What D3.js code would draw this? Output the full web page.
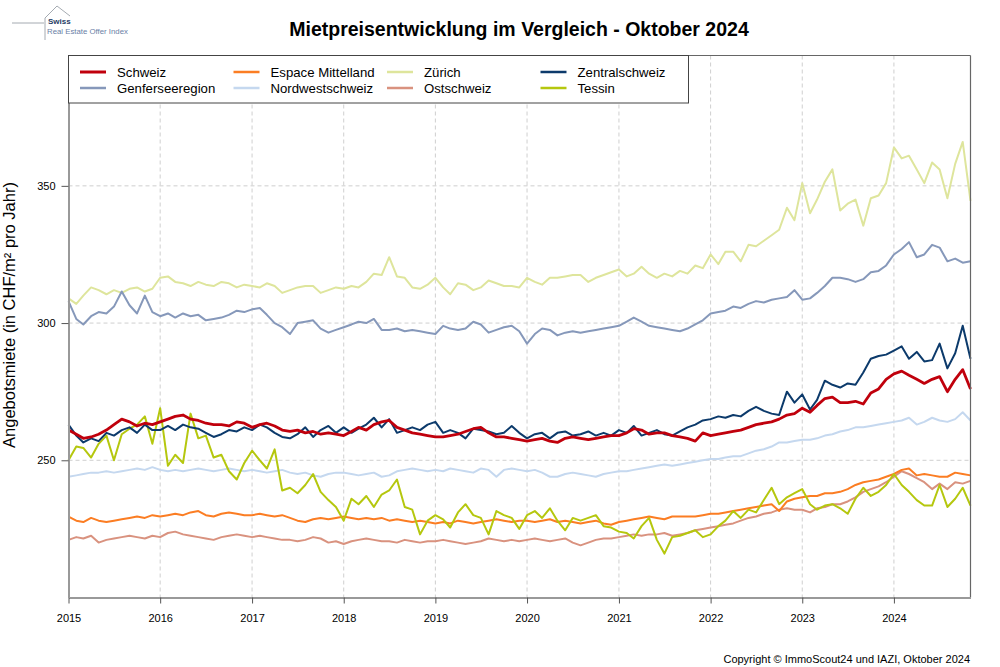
<!DOCTYPE html>
<html>
<head>
<meta charset="utf-8">
<script src="https://cdn.jsdelivr.net/npm/d3@7"></script>
<style>
  html, body { margin: 0; padding: 0; background: #fff; }
  svg { display: block; font-family: "Liberation Sans", Arial, sans-serif; }
</style>
</head>
<body>
<svg id="chart" width="1000" height="667"></svg>
<script>
// ---------- DATA (monthly readings, Jan 2015 .. Nov 2024) ----------
const startYear = 2015;
const nPoints = 119;
const yearTicks = [2015, 2016, 2017, 2018, 2019, 2020, 2021, 2022, 2023, 2024];
const valueTicks = [250, 300, 350];

const schweiz = [
  261, 259.5, 258, 258.5, 259.5, 261, 263, 265, 264, 262.5, 263.5, 263,
  264, 265, 266, 266.5, 265, 264.5, 263.5, 263, 263, 262.5, 264, 263.5,
  262, 263, 263.5, 262.5, 261, 260.5, 261, 260, 260.5, 259.5, 260, 259.5,
  259, 260.5, 262, 261, 263, 264, 264.5, 262, 261, 260, 259.5, 259,
  258.5, 258.5, 259, 259.5, 260.5, 261.5, 262, 260, 258.5, 258.5, 258, 257.5,
  257, 257.5, 258, 257, 256.5, 258, 258.5, 258, 257.5, 258, 258.5, 259,
  259, 260, 261.5, 261, 259.5, 260, 260, 259, 258.5, 258, 257, 260,
  259, 259.5, 260, 260.5, 261, 262, 263, 263.5, 264, 265, 266.5, 267,
  269, 267.5, 270, 272.5, 273, 271, 271, 271.5, 270.5, 274.5, 276, 279.5,
  281.5, 282.5, 281, 279.5, 278, 279.5, 280.5, 275, 279.5, 283, 276
];
const genferseeregion = [
  308, 301.5, 299.5, 302.5, 304, 303.5, 306, 311.5, 306.5, 303.5, 310, 304,
  302.5, 303.5, 302, 303.5, 302.5, 303, 301, 301.5, 302, 303, 304.5, 304,
  305, 305.5, 303, 300, 298.5, 296, 300, 300.5, 301, 298, 296.5, 297.5,
  298.5, 299.5, 300.5, 300, 301.5, 297.5, 297.5, 298, 297, 297.5, 297, 296.5,
  296, 299, 298, 297.5, 298, 300.5, 299.5, 296.5, 297.5, 298.5, 299, 297,
  292.5, 296, 298, 297.5, 295.5, 296.5, 297, 296.5, 297, 297.5, 298, 298.5,
  299, 300.5, 302, 300.5, 299, 298.5, 298, 297.5, 297, 298, 299.5, 301,
  303.5, 304, 304.5, 306, 305.5, 307, 308, 307.5, 308.5, 309, 309.5, 312,
  308.5, 309, 311, 313.5, 316.5, 316.5, 316, 315, 316, 318.5, 319, 321,
  325, 327, 329.5, 324, 325, 328.5, 327.5, 322.5, 323.5, 322, 322.5
];
const espaceMittelland = [
  229.5, 228, 227.5, 229, 228, 227.5, 228, 228.5, 229, 229.5, 229, 230,
  229.5, 230, 230.5, 230, 231, 231.5, 230, 229.5, 230.5, 231, 230.5, 230,
  230, 230.5, 230, 229.5, 230, 229, 228, 227.5, 228.5, 229, 228.5, 229,
  229.5, 229, 228.5, 229, 228.5, 229, 228, 228.5, 228, 227.5, 228, 227.5,
  227, 227.5, 227, 228, 227.5, 227, 227.5, 228, 228.5, 228, 227.5, 228,
  228, 227.5, 228, 228.5, 227.5, 228, 227.5, 227, 227.5, 228, 227, 226.5,
  227.5, 228, 228.5, 229, 229.5, 229, 228.5, 229.5, 229.5, 229.5, 229.5, 230,
  230.5, 230.5, 231, 231.5, 232, 232.5, 233, 233.5, 234, 231.5, 235, 236,
  236.5, 237, 237, 238, 238, 238.5, 239.5, 241, 242, 242.5, 243, 244,
  245, 246.5, 247, 244.5, 245, 244.5, 244, 244, 245.5, 245, 244.5
];
const nordwestschweiz = [
  244, 244.5, 245, 245.5, 245.5, 246, 245.5, 246, 246.5, 247, 246.5, 247.5,
  246.5, 246, 246.5, 246, 246.5, 247, 246.5, 246, 246.5, 247, 246.5, 246,
  246.5, 246, 245.5, 246, 246.5, 245.5, 245, 245.5, 244.5, 244, 245, 245.5,
  245.5, 245, 244.5, 245, 245.5, 244, 244.5, 246, 246.5, 247, 246.5, 246,
  246.5, 246, 247, 246.5, 246, 245.5, 247, 246.5, 244, 246.5, 247, 246.5,
  246, 246.5, 245.5, 244, 244, 245, 245.5, 245, 244.5, 244, 245, 245.5,
  246, 246, 246.5, 247, 247.5, 248, 248.5, 248, 248.5, 249, 249.5, 250,
  250.5, 250.5, 251, 251.5, 251.5, 252.5, 253.5, 254, 255, 256.5, 256.5, 257,
  257.5, 257.5, 258, 259, 259.5, 260.5, 261, 262, 262, 262.5, 263, 263.5,
  264, 264.5, 265.5, 263, 264, 265.5, 264.5, 264, 265, 267.5, 264.5
];
const zuerich = [
  309, 307, 310, 313, 312, 310.5, 312, 311, 312.5, 313, 311.5, 312.5,
  316.5, 317, 315, 314.5, 313.5, 315, 314, 313.5, 315, 314.5, 313, 314,
  313.5, 313, 314.5, 313.5, 311, 312, 313, 313.5, 313.5, 311, 312, 313,
  312.5, 313.5, 313, 315, 318, 317.5, 324, 317, 316.5, 313, 312.5, 314,
  316.5, 313, 310.5, 314.5, 314, 312, 313, 315.5, 314.5, 313.5, 313.5, 313,
  316.5, 315, 314, 316.5, 316.5, 317, 317.5, 317.5, 315, 316.5, 317.5, 318.5,
  319.5, 317, 318, 320.5, 318, 316.5, 318, 317, 319, 318, 321, 320,
  325, 321.5, 326, 326, 322.5, 328.5, 328, 330, 332, 334, 342, 337.5,
  351, 340, 345, 351.5, 356, 341, 343.5, 345, 335.5, 345.5, 346.5, 351,
  364, 360, 361, 356, 351, 358.5, 356, 345.5, 358, 366, 344.5
];
const ostschweiz = [
  221, 222, 221.5, 222.5, 220, 221, 221.5, 222, 222.5, 222, 221.5, 222.5,
  222, 223.5, 224, 223, 222.5, 222, 221.5, 221, 222, 222.5, 223, 222.5,
  222, 222.5, 222, 221.5, 221, 221, 220.5, 221, 222, 221.5, 220, 220.5,
  219.5, 220.5, 221, 221.5, 221, 220.5, 220.5, 220, 221, 220.5, 220, 220.5,
  220.5, 221, 220.5, 220, 219.5, 220, 220.5, 221.5, 221, 220.5, 221, 220.5,
  221, 221.5, 221, 220.5, 221, 221.5, 220, 219, 220, 221, 221.5, 221.5,
  222, 222.5, 223, 222.5, 223, 223, 223.5, 222.5, 223, 223.5, 224.5, 225,
  225.5, 226, 226.5, 227, 228, 229, 229.5, 230.5, 231, 232, 232.5, 232,
  232, 231, 232.5, 233, 234, 234, 235, 236.5, 238.5, 239.5, 240.5, 242,
  244, 246, 245, 243.5, 242, 239.5, 241.5, 239.5, 242, 241.5, 242.5
];
const zentralschweiz = [
  263, 259, 256.5, 258, 257, 260, 259, 261, 262, 260, 263, 261,
  261, 262.5, 261, 263, 262, 261.5, 260, 258.5, 259.5, 261, 260.5, 262,
  261, 263, 262, 260, 258.5, 258, 259.5, 262, 258.5, 261, 262.5, 260,
  262, 260, 261.5, 263, 265.5, 262, 265, 260, 261, 262, 261, 263,
  264, 260, 261, 260, 258, 261.5, 261, 260.5, 259.5, 260, 262.5, 260,
  258, 259.5, 260, 258, 260, 260.5, 259, 259.5, 260.5, 259, 260, 259,
  261, 260, 262.5, 259, 260, 261, 259.5, 259, 260.5, 262, 263, 264.5,
  265, 266, 265.5, 266.5, 266, 268, 269.5, 268, 267, 266.5, 275, 271,
  274, 268.5, 272, 279, 277.5, 276.5, 278, 277.5, 282, 287, 288, 288.5,
  290, 291.5, 287, 289.5, 286, 286.5, 292.5, 283.5, 289, 299, 287
];
const tessin = [
  250, 255, 254.5, 251, 256, 259, 250, 259.5, 261.5, 263, 266, 256,
  269, 248, 252, 249, 267, 258, 259, 251, 252, 246, 243, 249,
  253.5, 250, 247, 254, 239, 240, 238, 241, 245, 238.5, 235.5, 233,
  228, 236, 234, 237, 233, 237.5, 239, 243, 233, 232, 223, 228,
  230, 228.5, 225.5, 231, 234, 230, 229, 223, 231.5, 230, 229, 225,
  230, 231.5, 229, 232.5, 228, 224.5, 229, 228, 229, 230, 226, 225.5,
  224, 223.5, 221.5, 226, 229, 221, 216, 222, 222.5, 223.5, 224.5, 222,
  223, 226, 228, 231.5, 229, 232, 231, 235.5, 240, 234, 236.5, 238,
  239.5, 234, 232, 233.5, 234, 232.5, 230.5, 236, 240, 237, 238.5, 241,
  245, 241, 238.5, 235.5, 233.5, 233.5, 241, 233, 236, 240, 233.5
];

const seriesNames = ["Schweiz", "Genferseeregion", "Espace Mittelland", "Nordwestschweiz",
                     "Zürich", "Ostschweiz", "Zentralschweiz", "Tessin"];

// ---------- build ----------
const dates = d3.range(nPoints).map(i => new Date(Date.UTC(startYear, i, 1)));
const seriesValues = {
  "Schweiz": schweiz, "Genferseeregion": genferseeregion, "Espace Mittelland": espaceMittelland,
  "Nordwestschweiz": nordwestschweiz, "Zürich": zuerich, "Ostschweiz": ostschweiz,
  "Zentralschweiz": zentralschweiz, "Tessin": tessin
};
const colors = {
  "Schweiz": "#c0000c", "Genferseeregion": "#8698ba", "Espace Mittelland": "#fb7d23",
  "Nordwestschweiz": "#c5d8ef", "Zürich": "#dee59c", "Ostschweiz": "#d9927f",
  "Zentralschweiz": "#0c3a6b", "Tessin": "#b5c70e"
};
const widths = { "Schweiz": 2.8 };
const drawOrder = ["Zürich", "Genferseeregion", "Nordwestschweiz", "Ostschweiz",
                   "Espace Mittelland", "Tessin", "Zentralschweiz", "Schweiz"];

const svg = d3.select("#chart");
const L = 68.5, R = 970.5, T = 55.5, B = 597.5;

const x = d3.scaleUtc()
  .domain([new Date(Date.UTC(2015, 0, 1)), new Date(Date.UTC(2024, 10, 1))])
  .range([L, R]);
const y = d3.scaleLinear().domain([200, 397.5]).range([B, T]);

// grid
const grid = svg.append("g");
grid.selectAll("line.vg").data(yearTicks.slice(1)).join("line")
  .attr("x1", d => x(new Date(Date.UTC(d, 0, 1)))).attr("x2", d => x(new Date(Date.UTC(d, 0, 1))))
  .attr("y1", T).attr("y2", B)
  .attr("stroke", "#cfcfcf").attr("stroke-width", 1).attr("stroke-dasharray", "4,3");
grid.selectAll("line.hg").data(valueTicks).join("line")
  .attr("x1", L).attr("x2", R).attr("y1", d => y(d)).attr("y2", d => y(d))
  .attr("stroke", "#cfcfcf").attr("stroke-width", 1).attr("stroke-dasharray", "4,3");

// lines
const line = d3.line().x((d, i) => x(dates[i])).y(d => y(d));
const lines = svg.append("g");
drawOrder.forEach(name => {
  lines.append("path")
    .datum(seriesValues[name])
    .attr("d", line)
    .attr("fill", "none")
    .attr("stroke", colors[name])
    .attr("stroke-width", widths[name] || 2)
    .attr("stroke-linejoin", "round");
});

// frame
svg.append("line").attr("x1", L).attr("x2", R).attr("y1", T).attr("y2", T)
  .attr("stroke", "#666").attr("stroke-width", 1.2);
svg.append("line").attr("x1", R).attr("x2", R).attr("y1", T).attr("y2", B)
  .attr("stroke", "#666").attr("stroke-width", 1.2);

// axes
const xAxis = d3.axisBottom(x)
  .tickValues(yearTicks.map(d => new Date(Date.UTC(d, 0, 1))))
  .tickFormat(d3.utcFormat("%Y")).tickSize(6).tickSizeOuter(0);
const gx = svg.append("g").attr("transform", `translate(0,${B})`).call(xAxis);
gx.select(".domain").attr("stroke", "#999").attr("stroke-width", 2);
gx.selectAll(".tick line").attr("stroke", "#555");
gx.selectAll(".tick text").attr("font-size", 11).attr("font-family", "Liberation Sans, Arial, sans-serif")
  .attr("fill", "#000").attr("dy", "1.45em");

const yAxis = d3.axisLeft(y).tickValues(valueTicks).tickSize(7).tickSizeOuter(0);
const gy = svg.append("g").attr("transform", `translate(${L},0)`).call(yAxis);
gy.select(".domain").attr("stroke", "#999").attr("stroke-width", 2);
gy.selectAll(".tick line").attr("stroke", "#555");
gy.selectAll(".tick text").attr("font-size", 11).attr("font-family", "Liberation Sans, Arial, sans-serif")
  .attr("fill", "#000").attr("x", -13);

// y label
svg.append("text")
  .attr("transform", "translate(15,315) rotate(-90)")
  .attr("text-anchor", "middle").attr("font-size", 16.5).attr("fill", "#000")
  .text("Angebotsmiete (in CHF/m² pro Jahr)");

// title
svg.append("text").attr("x", 519).attr("y", 36).attr("text-anchor", "middle")
  .attr("font-size", 19.5).attr("font-weight", "bold").attr("fill", "#000")
  .text("Mietpreisentwicklung im Vergleich - Oktober 2024");

// legend
const lg = svg.append("g");
lg.append("rect").attr("x", L).attr("y", T).attr("width", 620).attr("height", 47.5)
  .attr("fill", "#fff").attr("stroke", "#444").attr("stroke-width", 1);
const legendOrder = [["Schweiz", "Genferseeregion"], ["Espace Mittelland", "Nordwestschweiz"],
                     ["Zürich", "Ostschweiz"], ["Zentralschweiz", "Tessin"]];
const colX = [80, 233.5, 387, 540.5];
const rowY = [72, 88];
legendOrder.forEach((col, ci) => {
  col.forEach((name, ri) => {
    lg.append("line").attr("x1", colX[ci]).attr("x2", colX[ci] + 26)
      .attr("y1", rowY[ri]).attr("y2", rowY[ri])
      .attr("stroke", colors[name]).attr("stroke-width", name === "Schweiz" ? 3 : 2.5);
    lg.append("text").attr("x", colX[ci] + 37).attr("y", rowY[ri]).attr("dy", "0.35em")
      .attr("font-size", 13.2).attr("fill", "#000").text(name);
  });
});

// copyright
svg.append("text").attr("x", 970).attr("y", 663).attr("text-anchor", "end")
  .attr("font-size", 11).attr("fill", "#000")
  .text("Copyright © ImmoScout24 und IAZI, Oktober 2024");

// logo
const logo = svg.append("g");
logo.append("path").attr("d", "M12,23 L44,23 M45,40 L45,18 L57,6 L70,16")
  .attr("fill", "none").attr("stroke", "#9aa0a8").attr("stroke-width", 0.9);
logo.append("text").attr("x", 48).attr("y", 24).attr("font-size", 8).attr("font-weight", "bold")
  .attr("fill", "#1f3b64").text("Swiss");
logo.append("text").attr("x", 47).attr("y", 34).attr("font-size", 7.8)
  .attr("fill", "#6a80a6").text("Real Estate Offer Index");
</script>
</body>
</html>
